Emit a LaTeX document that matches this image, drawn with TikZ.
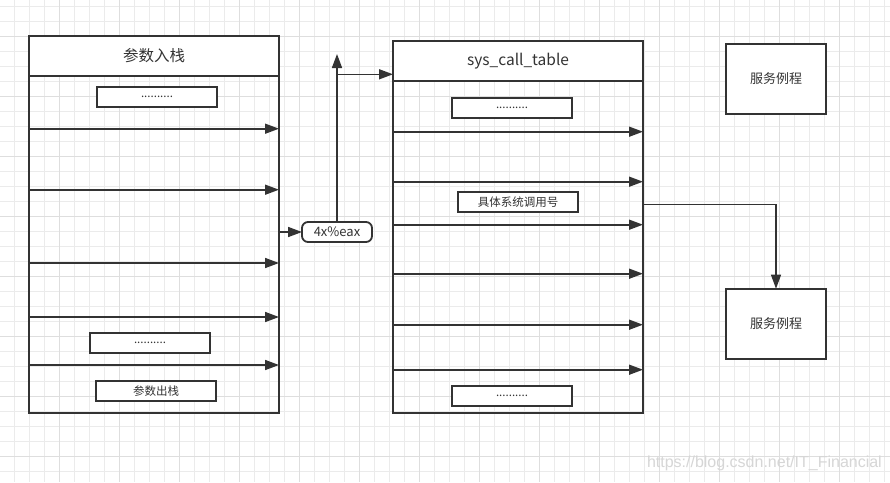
\documentclass[tikz,border=0pt]{standalone}
\usepackage{fontspec}
\setmainfont{Noto Sans CJK SC}
\newfontfamily\wmfont{Liberation Sans}
\usetikzlibrary{arrows.meta}
\definecolor{ink}{HTML}{333333}
\definecolor{gridminor}{HTML}{EBEBEB}
\definecolor{gridmajor}{HTML}{DEDEDE}
\begin{document}
\begin{tikzpicture}[x=1pt,y=-1pt,
  frame/.style={draw=ink,line width=2pt,inner sep=0pt,outer sep=0pt,text=ink},
  hdr/.style={frame,fill=white,minimum width=250pt,minimum height=40pt,font=\fontsize{15.5}{18}\selectfont},
  body/.style={frame,minimum width=250pt},
  slot/.style={frame,fill=white,line width=1.8pt,minimum width=120pt,minimum height=20pt,font=\fontsize{11.5}{13}\selectfont},
  svc/.style={frame,fill=white,minimum width=100pt,minimum height=70pt,font=\fontsize{13}{15}\selectfont},
  pill/.style={frame,fill=white,line width=1.8pt,rounded corners=6pt,minimum width=70pt,minimum height=20pt,font=\fontsize{13}{15}\selectfont},
  arr/.style={draw=ink,line width=1.6pt,-{Triangle[length=14pt,width=10pt]}},
  lnk/.style={draw=ink,line width=1.3pt,-{Triangle[length=14pt,width=10pt]}}
]
\useasboundingbox (0,0) rectangle (890,482);
\fill[white] (0,0) rectangle (890,482);
% grid
\foreach \k in {1,...,59} {\draw[gridminor,line width=0.9pt] (15*\k-0.5,0) -- (15*\k-0.5,482);}
\foreach \k in {0,...,31} {\draw[gridminor,line width=0.9pt] (0,6+15*\k) -- (890,6+15*\k);}
\foreach \k in {0,...,14} {\draw[gridmajor,line width=1pt] (59.5+60*\k,0) -- (59.5+60*\k,482);}
\foreach \k in {0,...,7} {\draw[gridmajor,line width=1pt] (0,36+60*\k) -- (890,36+60*\k);}

% left stack
\node[hdr] (Lh) at (154,55.8) {参数入栈};
\node[body,minimum height=336.8pt] (Lb) at (154,244.2) {};
\node[slot] (L1) at (157,97) {..........};
\node[slot] (L2) at (150,343) {..........};
\node[slot] (L3) at (156,391) {参数出栈};

% right table
\node[hdr] (Rh) at (518,60.8) {sys\_call\_table};
\node[body,minimum height=332pt] (Rb) at (518,246.8) {};
\node[slot] (R1) at (512,108) {..........};
\node[slot] (R2) at (518,202) {具体系统调用号};
\node[slot] (R3) at (512,396) {..........};

% services
\node[svc] (S1) at (776,78.7) {服务例程};
\node[svc] (S2) at (776,323.7) {服务例程};

% 4x%eax
\node[pill] (E) at (337,232) {4x\%eax};

% arrows in left stack
\foreach \y in {128.7,189.7,263,317,365} {\draw[arr] (Lb.west |- 0,\y) -- (Lb.east |- 0,\y);}
% arrows in right table
\foreach \y in {131.7,181.7,224.7,273.7,324.7,369.7} {\draw[arr] (Rb.west |- 0,\y) -- (Rb.east |- 0,\y);}

% to eax
\draw[arr] (Lb.east |- E.west) -- (E.west);
\coordinate (Up) at (337,54);
\coordinate (Br) at (337,74.3);
\draw[arr] (E.north) -- (Up);
\draw[arr] (Br) -- (Br -| Rh.west);

% table to service
\coordinate (Out) at (Rb.east |- 0,204.3);
\draw[lnk] (Out) -| (S2.north);

% watermark
\node[text=black!16,font=\wmfont\fontsize{16}{19}\selectfont,anchor=east,inner sep=0pt] (W) at (882,463) {https://blog.csdn.net/IT\_Financial};
\end{tikzpicture}
\end{document}
